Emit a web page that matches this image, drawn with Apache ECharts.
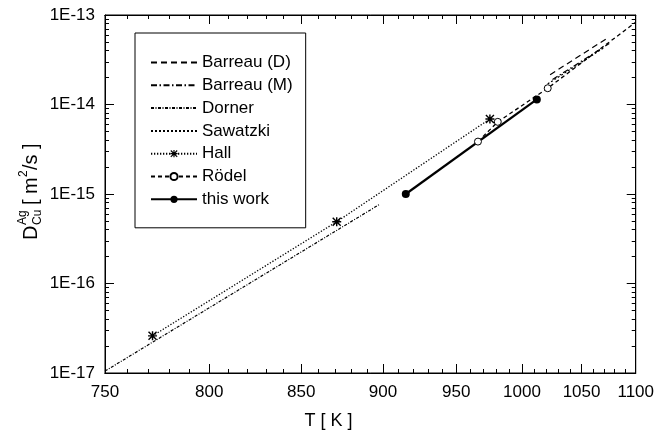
<!DOCTYPE html>
<html><head><meta charset="utf-8">
<script src="https://cdn.jsdelivr.net/npm/echarts@6/dist/echarts.min.js"></script>
<style>html,body{margin:0;padding:0;background:#fff}#c{width:657px;height:442px}</style>
</head><body><div id="c"></div>
<script>
// ---- tick labels ----
const xTickLabels = [750, 800, 850, 900, 950, 1000, 1050, 1100];
const xMinorTicks = [760, 770, 780, 790, 810, 820, 830, 840, 860, 870, 880, 890, 910, 920, 930, 940,
  960, 970, 980, 990, 1010, 1020, 1030, 1040, 1060, 1070, 1080, 1090];
const yTickLabels = ['1E-17', '1E-16', '1E-15', '1E-14', '1E-13'];
const yDecades = [-17, -16, -15, -14];
const yMinorMultipliers = [2, 3, 4, 5, 6, 7, 8, 9];

// ---- series values: temperature T [K] and diffusivity D [m^2/s] ----
const barreauD_T = [1023, 1072];
const barreauD_D = [2.15e-14, 5.4e-14];
const barreauM_T = [1025, 1075];
const barreauM_D = [1.9e-14, 4.8e-14];
const dorner_T = [750, 898];
const dorner_D = [1.05e-17, 7.7e-16];
const sawatzki_T = [1021, 1070];
const sawatzki_D = [1.7e-14, 4.3e-14];
const hall_T = [772, 871, 975];
const hall_D = [2.6e-17, 4.9e-16, 6.9e-15];
const rodel_T = [966, 981, 1021, 1100];
const rodel_D = [3.85e-15, 6.4e-15, 1.52e-14, 8.3e-14];
const rodel_marked = [true, true, true, false];
const thisWork_T = [915, 1012];
const thisWork_D = [1.0e-15, 1.14e-14];

const legendNames = ['Barreau (D)', 'Barreau (M)', 'Dorner', 'Sawatzki', 'Hall', 'Rödel', 'this work'];
const legendHasMarker = [false, false, false, false, true, true, true];

const inv = t => 1000 / t;
const pts = (T, D) => T.map((t, i) => [inv(t), D[i]]);

const FONT = '"Liberation Sans", Arial, sans-serif';
const XMIN = inv(1100), XMAX = inv(750);

const starPath = 'path://M4.2 0 L5.8 0 L5.8 10 L4.2 10 Z M0 4.2 L10 4.2 L10 5.8 L0 5.8 Z M1.1 0 L10 8.9 L8.9 10 L0 1.1 Z M8.9 0 L10 1.1 L1.1 10 L0 8.9 Z';

const yMinorLog = [];
yDecades.forEach(n => yMinorMultipliers.forEach(k => yMinorLog.push(n + Math.log10(k))));

function xAxisDef(pos, ticks, len, labels) {
  return {
    type: 'value', position: pos, min: XMIN, max: XMAX, inverse: true,
    axisLine: { show: true, onZero: false, lineStyle: { color: '#000', width: 1 } },
    axisTick: { show: true, inside: true, length: len, customValues: ticks.map(inv), lineStyle: { color: '#000', width: 1 } },
    axisLabel: labels ? {
      show: true, customValues: xTickLabels.map(inv), margin: 11,
      formatter: v => String(Math.round(1000 / v)),
      color: '#000', fontSize: 17, fontFamily: FONT
    } : { show: false },
    splitLine: { show: false }
  };
}
function yLogDef(pos, labels) {
  return {
    type: 'log', logBase: 10, position: pos, min: 1e-17, max: 1e-13,
    axisLine: { show: true, onZero: false, lineStyle: { color: '#000', width: 1 } },
    axisTick: { show: true, inside: true, length: 9, lineStyle: { color: '#000', width: 1 } },
    axisLabel: labels ? {
      show: true, margin: 10,
      formatter: v => yTickLabels[Math.round(Math.log10(v)) + 17],
      color: '#000', fontSize: 17, fontFamily: FONT
    } : { show: false },
    splitLine: { show: false }
  };
}
function yMinorDef(pos) {
  return {
    type: 'value', position: pos, min: -17, max: -13,
    axisLine: { show: false },
    axisTick: { show: true, inside: true, length: 4, customValues: yMinorLog, lineStyle: { color: '#000', width: 1 } },
    axisLabel: { show: false },
    splitLine: { show: false }
  };
}

function lineSeries(name, T, D, dash, width, extra) {
  return Object.assign({
    name, type: 'line', xAxisIndex: 0, yAxisIndex: 0,
    data: pts(T, D), symbol: 'none', animation: false,
    lineStyle: { color: '#000', width: width, type: dash },
    itemStyle: { color: '#000' }
  }, extra || {});
}

const series = [
  lineSeries('Barreau (D)', barreauD_T, barreauD_D, [6, 4], 1.2),
  lineSeries('Barreau (M)', barreauM_T, barreauM_D, [6, 2.5, 1.5, 2.5], 1.2),
  lineSeries('Dorner', dorner_T, dorner_D, [3, 1.5, 1, 1.5], 1.2),
  lineSeries('Sawatzki', sawatzki_T, sawatzki_D, [2, 2], 1.2),
  lineSeries('Hall', hall_T, hall_D, [1.3, 1.7], 1.3, {
    symbol: starPath, symbolSize: 9, showSymbol: true
  }),
  lineSeries('Rödel', rodel_T, rodel_D, [4, 3], 1.3, {
    data: rodel_T.map((t, i) => ({ value: [inv(t), rodel_D[i]], symbol: rodel_marked[i] ? 'circle' : 'none' })),
    symbol: 'circle', symbolSize: 7, showSymbol: true,
    itemStyle: { color: '#fff', borderColor: '#000', borderWidth: 1 }
  }),
  lineSeries('this work', thisWork_T, thisWork_D, 'solid', 2.2, {
    symbol: 'circle', symbolSize: 8, showSymbol: true
  })
];

const chart = echarts.init(document.getElementById('c'), null, { renderer: 'canvas' });
chart.setOption({
  backgroundColor: '#fff',
  animation: false,
  textStyle: { fontFamily: FONT },
  grid: { left: 105, right: 19, top: 15, bottom: 69, show: true, borderColor: '#000', borderWidth: 1 },
  xAxis: [
    xAxisDef('bottom', xTickLabels, 9, true),
    xAxisDef('bottom', xMinorTicks, 4, false),
    xAxisDef('top', xTickLabels, 9, false),
    xAxisDef('top', xMinorTicks, 4, false)
  ],
  yAxis: [
    yLogDef('left', true),
    yMinorDef('left'),
    yLogDef('right', false),
    yMinorDef('right')
  ],
  legend: {
    orient: 'vertical', left: 135, top: 33,
    padding: [21, 13, 20, 15],
    borderColor: '#000', borderWidth: 1, backgroundColor: '#fff',
    itemWidth: 46, itemHeight: 9, itemGap: 5.8,
    textStyle: { color: '#000', fontSize: 17, fontFamily: FONT },
    data: legendNames.map((n, i) => legendHasMarker[i] ? { name: n } : { name: n, itemStyle: { opacity: 0 } })
  },
  graphic: [
    {
      type: 'text', left: 'center', top: 412,
      style: { text: 'T [ K ]', font: '18px ' + FONT, fill: '#000' }
    },
    {
      type: 'group', x: 31, y: 190, rotation: Math.PI / 2,
      children: [
        { type: 'text', x: -50, y: 0, style: { text: 'D', font: '20px ' + FONT, fill: '#000', textVerticalAlign: 'middle', verticalAlign: 'middle' } },
        { type: 'text', x: -35, y: -8, style: { text: 'Ag', font: '12px ' + FONT, fill: '#000', textVerticalAlign: 'middle', verticalAlign: 'middle' } },
        { type: 'text', x: -35, y: 7, style: { text: 'Cu', font: '12px ' + FONT, fill: '#000', textVerticalAlign: 'middle', verticalAlign: 'middle' } },
        { type: 'text', x: -15, y: 0, style: { text: '[ m', font: '20px ' + FONT, fill: '#000', textVerticalAlign: 'middle', verticalAlign: 'middle' } },
        { type: 'text', x: 13, y: -7, style: { text: '2', font: '12px ' + FONT, fill: '#000', textVerticalAlign: 'middle', verticalAlign: 'middle' } },
        { type: 'text', x: 20, y: 0, style: { text: '/s ]', font: '20px ' + FONT, fill: '#000', textVerticalAlign: 'middle', verticalAlign: 'middle' } }
      ]
    }
  ],
  series: series
});
</script>
</body></html>
